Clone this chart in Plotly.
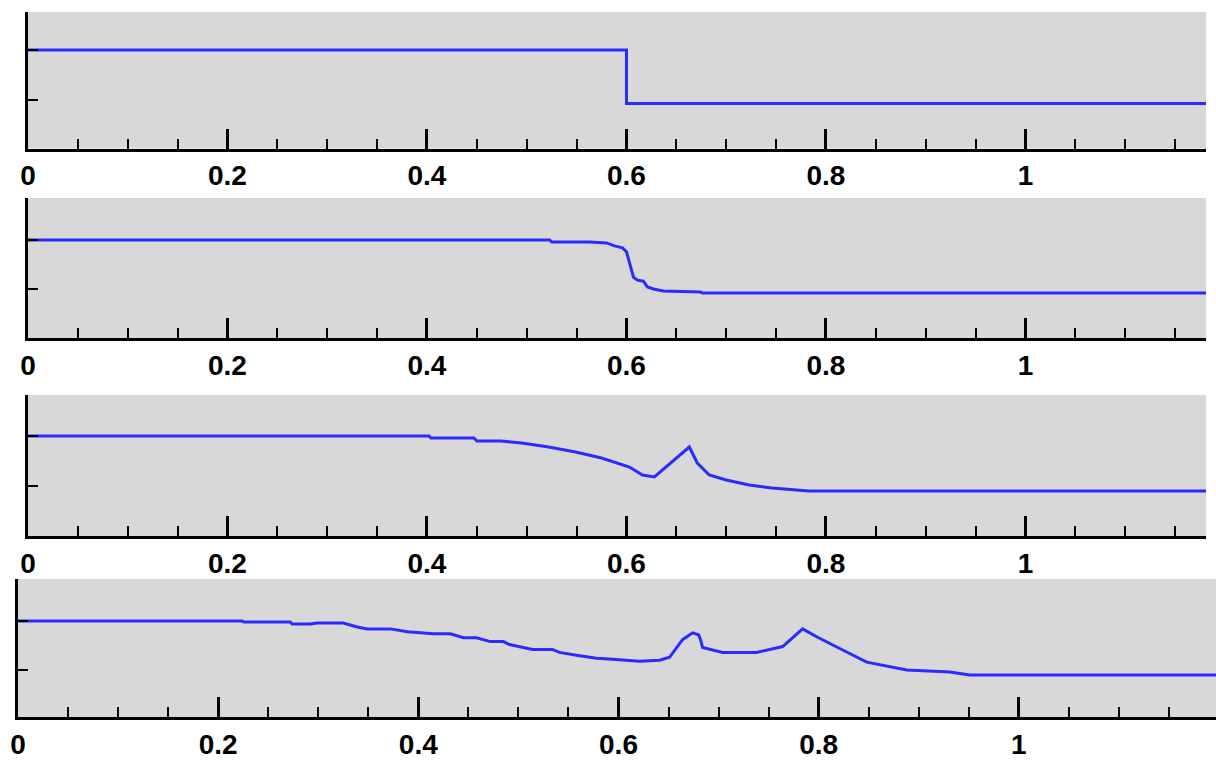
import plotly.graph_objects as go

# four snapshots of the same profile, top to bottom
x_t0 = [0.0, 0.6, 0.6, 1.2]
y_t0 = [1.0, 1.0, 0.465, 0.465]

x_t1 = [0.0, 0.523, 0.525, 0.563, 0.580, 0.588, 0.596, 0.600, 0.603, 0.606,
        0.607, 0.611, 0.617, 0.621, 0.627, 0.637, 0.674, 0.676, 1.2]
y_t1 = [1.0, 1.0, 0.98, 0.98, 0.97, 0.94, 0.92, 0.88, 0.77, 0.67,
        0.62, 0.59, 0.58, 0.52, 0.50, 0.48, 0.47, 0.46, 0.46]

x_t2 = [0.0, 0.402, 0.404, 0.447, 0.450, 0.474, 0.495, 0.522, 0.549, 0.575,
        0.603, 0.616, 0.628, 0.663, 0.671, 0.683, 0.700, 0.723, 0.746, 0.783, 1.2]
y_t2 = [1.0, 1.0, 0.98, 0.98, 0.95, 0.95, 0.93, 0.89, 0.84, 0.78,
        0.69, 0.61, 0.59, 0.89, 0.73, 0.61, 0.56, 0.51, 0.48, 0.45, 0.45]

x_t3 = [0.0, 0.224, 0.226, 0.272, 0.274, 0.292, 0.299, 0.325, 0.339, 0.349,
        0.372, 0.389, 0.415, 0.432, 0.445, 0.458, 0.472, 0.485, 0.491, 0.514,
        0.534, 0.541, 0.558, 0.578, 0.594, 0.621, 0.641, 0.651, 0.664, 0.674,
        0.680, 0.682, 0.684, 0.688, 0.704, 0.738, 0.764, 0.784, 0.798, 0.821,
        0.848, 0.888, 0.931, 0.951, 1.2]
y_t3 = [1.0, 1.0, 0.99, 0.99, 0.97, 0.97, 0.98, 0.98, 0.94, 0.92,
        0.92, 0.89, 0.87, 0.87, 0.83, 0.83, 0.79, 0.79, 0.76, 0.71,
        0.71, 0.68, 0.65, 0.62, 0.61, 0.59, 0.60, 0.63, 0.81, 0.88,
        0.86, 0.81, 0.73, 0.72, 0.68, 0.68, 0.74, 0.92, 0.84, 0.72,
        0.58, 0.50, 0.48, 0.45, 0.45]

x_ticks = [0, 0.2, 0.4, 0.6, 0.8, 1]
x_labels = ["0", "0.2", "0.4", "0.6", "0.8", "1"]
y_ticks = [0.5, 1.0]

series = [(x_t0, y_t0), (x_t1, y_t1), (x_t2, y_t2), (x_t3, y_t3)]
x_domains = [[0.0230, 0.9918], [0.0230, 0.9918], [0.0230, 0.9918], [0.0148, 1.0]]
y_domains = [[0.8046, 0.9842], [0.5553, 0.7395], [0.2947, 0.4803], [0.0566, 0.2382]]
x_ranges = [[0, 1.181], [0, 1.181], [0, 1.181], [0, 1.197]]
y_ranges = [[0.015, 1.38], [0.0, 1.429], [0.0, 1.41], [0.02, 1.43]]

fig = go.Figure()
for i, (xs, ys) in enumerate(series):
    n = "" if i == 0 else str(i + 1)
    fig.add_trace(go.Scatter(x=xs, y=ys, mode="lines",
                             line=dict(color="#2b2bff", width=3),
                             xaxis="x" + n, yaxis="y" + n, showlegend=False))
    fig.update_layout({
        "xaxis" + n: dict(
            domain=x_domains[i], range=x_ranges[i], anchor="y" + n,
            automargin=False,
            showgrid=False, zeroline=False, showline=True,
            linecolor="black", linewidth=3,
            tickvals=x_ticks, ticktext=x_labels,
            ticks="inside", ticklen=20, tickwidth=3, tickcolor="black",
            minor=dict(dtick=0.05, ticks="inside", ticklen=10, tickwidth=2,
                       tickcolor="black", showgrid=False),
            tickfont=dict(family="Liberation Sans", size=28, color="black",
                          weight="bold"),
        ),
        "yaxis" + n: dict(
            domain=y_domains[i], range=y_ranges[i], anchor="x" + n,
            automargin=False,
            showgrid=False, zeroline=False, showline=True,
            linecolor="black", linewidth=3,
            tickvals=y_ticks, showticklabels=False,
            ticks="inside", ticklen=10, tickwidth=2, tickcolor="black",
        ),
    })

fig.update_layout(
    width=1216, height=760,
    margin=dict(l=0, r=0, t=0, b=0, autoexpand=False),
    paper_bgcolor="white",
    plot_bgcolor="#d8d8d8",
)

# drop the browser's default 8px body margin so the figure fills the window
fig.write_html("out.html", config={"displayModeBar": False},
               post_script="document.body.style.margin='0';")
